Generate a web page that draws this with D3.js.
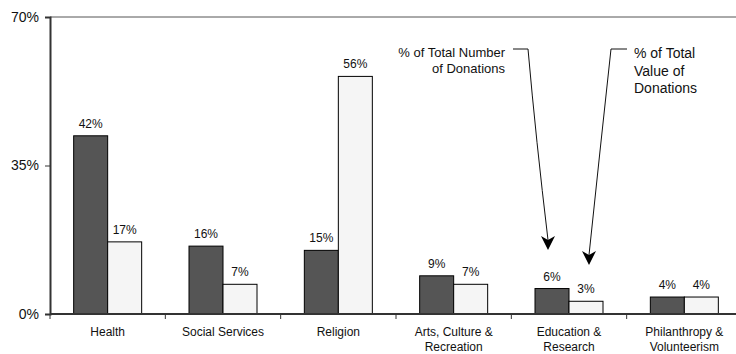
<!DOCTYPE html>
<html>
<head>
<meta charset="utf-8">
<script src="https://cdn.jsdelivr.net/npm/d3@7"></script>
<style>
  body { margin: 0; background: #fff; }
  svg { display: block; font-family: "Liberation Sans", Arial, sans-serif; }
</style>
</head>
<body>
<svg id="chart" width="736" height="354"></svg>
<script>
// Donations by cause: share of number vs share of value
const categories = [
  ["Health"],
  ["Social Services"],
  ["Religion"],
  ["Arts, Culture &", "Recreation"],
  ["Education &", "Research"],
  ["Philanthropy &", "Volunteerism"]
];
const numberShare = [42, 16, 15, 9, 6, 4];
const valueShare = [17, 7, 56, 7, 3, 4];
const yTicks = [0, 35, 70];

const svg = d3.select("#chart");
const margin = { left: 50, top: 17, bottom: 314 };
const plotRight = 742;

const x = d3.scaleBand().domain(d3.range(categories.length))
  .range([margin.left, plotRight]).paddingInner(0).paddingOuter(0);
const y = d3.scaleLinear().domain([0, 70]).range([margin.bottom, margin.top]);

const barW = 34;
const series = [
  { values: numberShare, fill: "#555555", offset: -barW },
  { values: valueShare, fill: "#f5f5f5", offset: 0 }
];

// top frame line
svg.append("line")
  .attr("x1", margin.left).attr("x2", plotRight)
  .attr("y1", y(70)).attr("y2", y(70))
  .attr("stroke", "#555").attr("stroke-width", 1);

// bars
series.forEach(s => {
  svg.append("g").selectAll("rect").data(s.values).join("rect")
    .attr("x", (d, i) => x(i) + x.bandwidth() / 2 + s.offset)
    .attr("y", d => y(d))
    .attr("width", barW)
    .attr("height", d => y(0) - y(d))
    .attr("fill", s.fill)
    .attr("stroke", "#000").attr("stroke-width", 1);

  svg.append("g").selectAll("text").data(s.values).join("text")
    .attr("x", (d, i) => x(i) + x.bandwidth() / 2 + s.offset + barW / 2)
    .attr("y", d => y(d) - 8)
    .attr("text-anchor", "middle")
    .attr("font-size", 12)
    .attr("fill", "#111")
    .text(d => d + "%");
});

// y axis
const yAxis = svg.append("g")
  .attr("transform", `translate(${margin.left},0)`)
  .call(d3.axisLeft(y).tickValues(yTicks).tickFormat(d => d + "%").tickSize(5).tickPadding(6));
yAxis.select(".domain").attr("stroke", "#333").attr("stroke-width", 2);
yAxis.selectAll(".tick line").attr("stroke", "#333");
yAxis.selectAll(".tick text").attr("font-size", 14).attr("fill", "#111")
  .attr("font-family", "Liberation Sans, Arial, sans-serif");

// x axis baseline with boundary ticks
svg.append("line")
  .attr("x1", margin.left).attr("x2", plotRight)
  .attr("y1", y(0)).attr("y2", y(0))
  .attr("stroke", "#333").attr("stroke-width", 2);
svg.append("g").selectAll("line").data(d3.range(categories.length + 1)).join("line")
  .attr("x1", i => margin.left + i * x.step())
  .attr("x2", i => margin.left + i * x.step())
  .attr("y1", y(0)).attr("y2", y(0) + 5)
  .attr("stroke", "#333").attr("stroke-width", 1);

// category labels
const catG = svg.append("g").selectAll("text").data(categories).join("text")
  .attr("text-anchor", "middle")
  .attr("font-size", 12)
  .attr("fill", "#111")
  .attr("x", (d, i) => x(i) + x.bandwidth() / 2)
  .attr("y", 336);
catG.selectAll("tspan").data(d => d).join("tspan")
  .attr("x", function() { return d3.select(this.parentNode).attr("x"); })
  .attr("dy", (d, j) => j === 0 ? 0 : 15)
  .text(d => d);

// call-out annotations
const notes = [
  { lines: ["% of Total Number", "of Donations"], anchor: "end", tx: 505, ty: 57, size: 13, gap: 16,
    path: [[513, 49], [528, 49], [548, 250]], ctrl: [536, 140] },
  { lines: ["% of Total", "Value of", "Donations"], anchor: "start", tx: 634, ty: 58, size: 14, gap: 17.5,
    path: [[627, 49], [611, 49], [589, 265]], ctrl: [600, 150] }
];
notes.forEach(n => {
  const t = svg.append("text")
    .attr("x", n.tx).attr("y", n.ty)
    .attr("text-anchor", n.anchor)
    .attr("font-size", n.size)
    .attr("fill", "#111");
  t.selectAll("tspan").data(n.lines).join("tspan")
    .attr("x", n.tx)
    .attr("dy", (d, j) => j === 0 ? 0 : n.gap)
    .text(d => d);

  const [p0, p1, tip] = n.path;
  const path = d3.path();
  path.moveTo(p0[0], p0[1]);
  path.lineTo(p1[0], p1[1]);
  path.quadraticCurveTo(n.ctrl[0], n.ctrl[1], tip[0], tip[1] - 10);
  svg.append("path").attr("d", path.toString())
    .attr("fill", "none").attr("stroke", "#111").attr("stroke-width", 1);
  // arrowhead
  svg.append("path")
    .attr("d", `M${tip[0]},${tip[1]} L${tip[0] - 7},${tip[1] - 14} L${tip[0]},${tip[1] - 10} L${tip[0] + 7},${tip[1] - 14} Z`)
    .attr("fill", "#000");
});
</script>
</body>
</html>
